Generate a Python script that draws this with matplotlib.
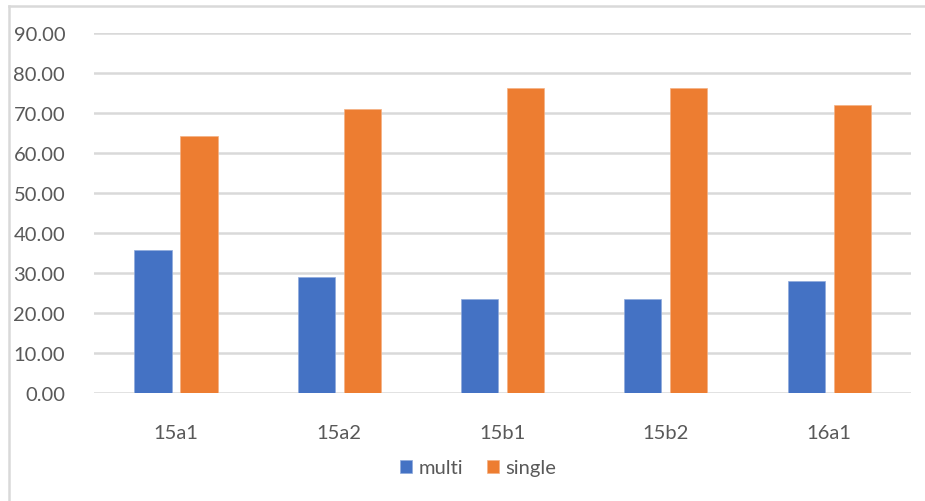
import matplotlib.pyplot as plt
import numpy as np

plt.rcParams['font.family'] = ['Lato', 'DejaVu Sans']

categorie = ['15a1', '15a2', '15b1', '15b2', '16a1']
multi = [35.8, 28.9, 23.6, 23.6, 27.9]
single = [64.2, 71.1, 76.4, 76.4, 72.1]

blu = '#4472c4'
arancio = '#ed7d31'
grigio = '#595959'

fig = plt.figure(figsize=(9.25, 5.02), dpi=100)
ax = fig.add_axes([0.102, 0.215, 0.8826, 0.717])

x = np.arange(len(categorie))
w = 0.227
ax.bar(x - 0.141, multi, w, color=blu, edgecolor='#8faadc', linewidth=0.5, label='multi', zorder=3)
ax.bar(x + 0.141, single, w, color=arancio, edgecolor='#f4b183', linewidth=0.5, label='single', zorder=3)

ax.set_xlim(-0.5, len(categorie) - 0.5)
ax.set_ylim(0, 90)
ax.set_yticks(np.arange(0, 91, 10))
ax.set_yticklabels([f'{v:.2f}' for v in np.arange(0, 91, 10)])
ax.set_xticks(x)
ax.set_xticklabels(categorie)
ax.tick_params(axis='both', length=0, colors=grigio, labelsize=14.5)
ax.tick_params(axis='y', pad=21)
ax.tick_params(axis='x', pad=22)
ax.grid(axis='y', color='#d9d9d9', linewidth=1.8, zorder=0)
for s in ax.spines.values():
    s.set_visible(False)

# bordo del grafico (solo alto e sinistra visibili)
fig.add_artist(plt.Line2D([9 / 925, 1], [1 - 7 / 502, 1 - 7 / 502], color='#d9d9d9', lw=1.8, transform=fig.transFigure))
fig.add_artist(plt.Line2D([9 / 925, 9 / 925], [0, 1 - 7 / 502], color='#d9d9d9', lw=1.8, transform=fig.transFigure))

fig.legend(loc='center', bbox_to_anchor=(0.517, 1 - 469 / 502), ncol=2, frameon=False,
           fontsize=14.5, labelcolor=grigio, handlelength=0.6, handleheight=0.6,
           handletextpad=0.3, columnspacing=1.2)

plt.savefig('out.png', dpi=100)
